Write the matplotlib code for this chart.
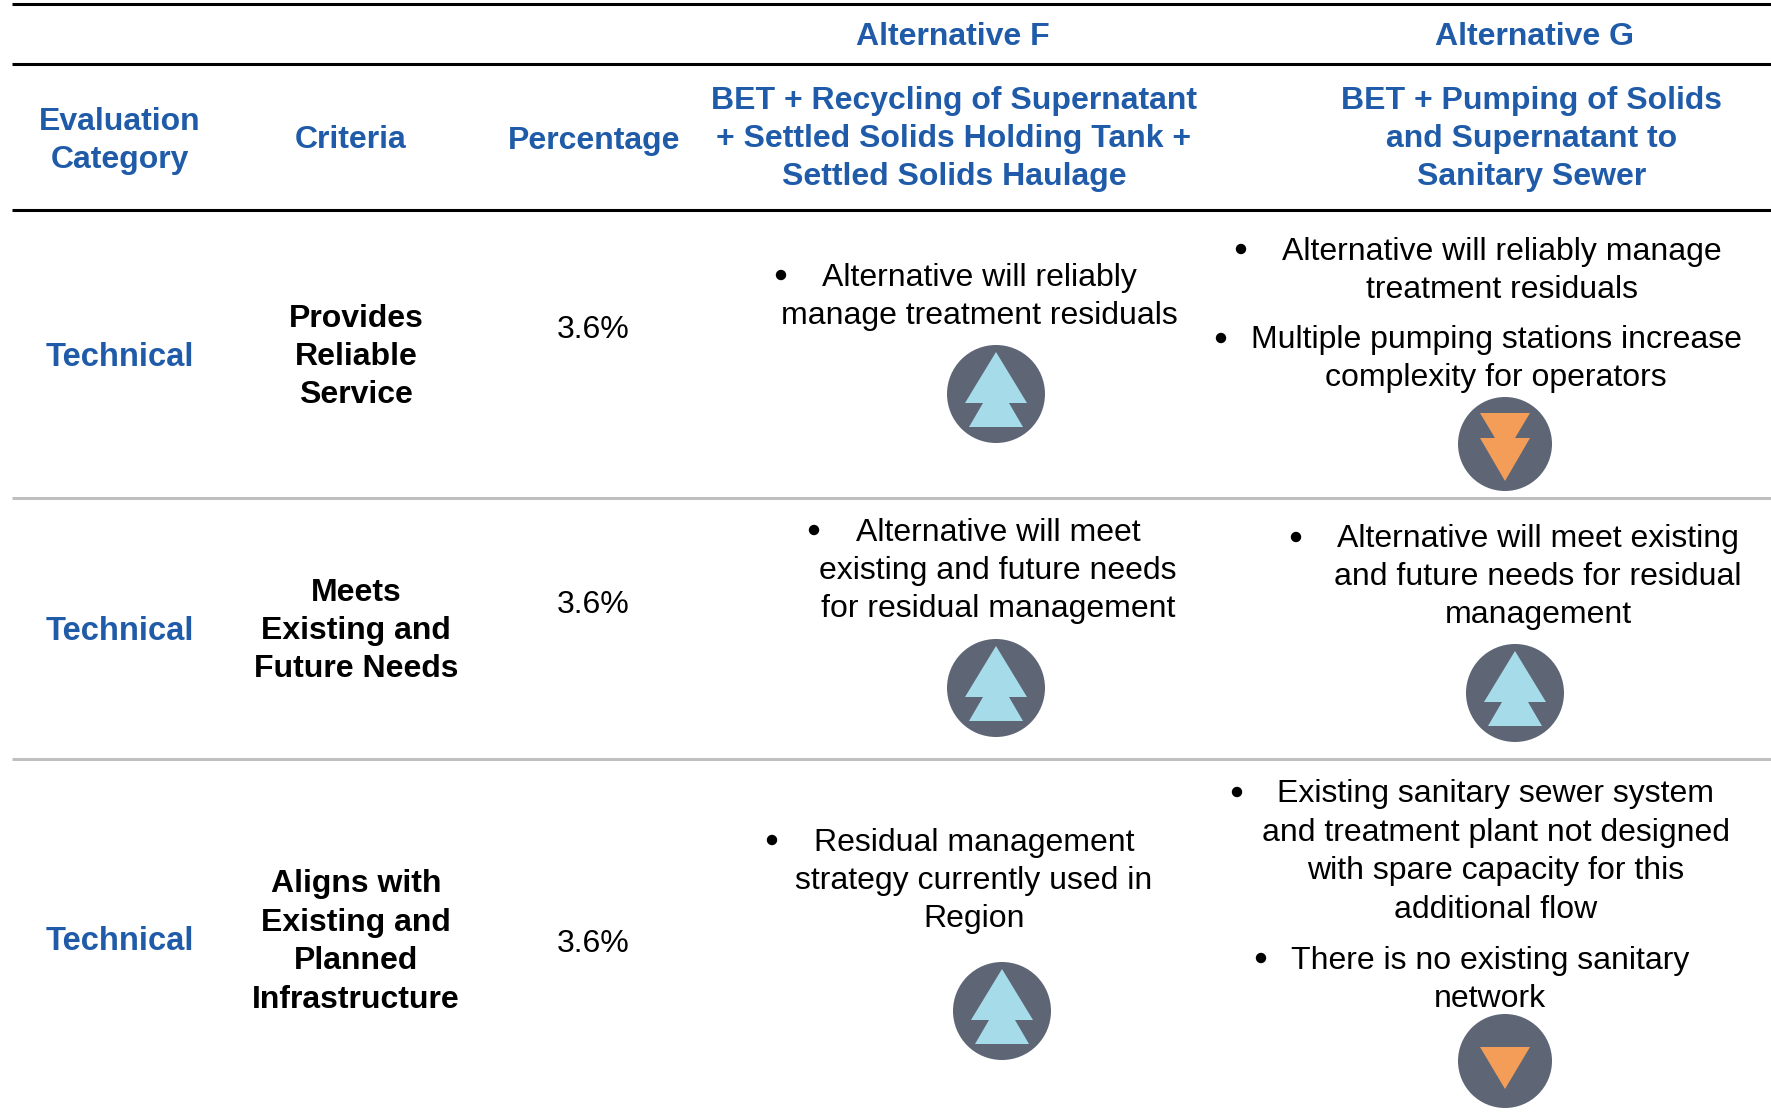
import matplotlib
matplotlib.use("Agg")
import matplotlib.pyplot as plt
from matplotlib.patches import Circle, Polygon

# DATA
alternatives = ["Alternative F", "Alternative G"]
headers = ["Evaluation\nCategory", "Criteria", "Percentage"]
alt_headers = [
    "BET + Recycling of Supernatant\n+ Settled Solids Holding Tank +\nSettled Solids Haulage",
    "BET + Pumping of Solids\nand Supernatant to\nSanitary Sewer",
]
categories = ["Technical", "Technical", "Technical"]
criteria = [
    "Provides\nReliable\nService",
    "Meets\nExisting and\nFuture Needs",
    "Aligns with\nExisting and\nPlanned\nInfrastructure",
]
percentages = ["3.6%", "3.6%", "3.6%"]

# text, centre x, centre y, bullet x, bullet y
f_notes = [
    ("Alternative will reliably\nmanage treatment residuals", 979, 294, 781, 275),
    ("Alternative will meet\nexisting and future needs\nfor residual management", 998, 568, 814, 530),
    ("Residual management\nstrategy currently used in\nRegion", 974, 878, 772, 840),
]
g_notes = [
    ("Alternative will reliably manage\ntreatment residuals", 1502, 268, 1241, 249),
    ("Multiple pumping stations increase\ncomplexity for operators", 1496, 356, 1221, 338),
    ("Alternative will meet existing\nand future needs for residual\nmanagement", 1538, 574, 1296, 537),
    ("Existing sanitary sewer system\nand treatment plant not designed\nwith spare capacity for this\nadditional flow", 1496, 849, 1237, 792),
    ("There is no existing sanitary\nnetwork", 1490, 977, 1261, 958),
]
# x, y, radius, kind
icons = [
    (996, 394, 49, "up2"),
    (1505, 444, 47, "down2"),
    (996, 688, 49, "up2"),
    (1515, 693, 49, "up2"),
    (1002, 1011, 49, "up2"),
    (1505, 1061, 47, "down1"),
]
shapes = {
    "up2": [(0, -42), (31, 9), (13, 9), (27, 33), (-27, 33), (-13, 9), (-31, 9)],
    "down2": [(-25, -31), (25, -31), (10, -6), (25, -6), (0, 37), (-25, -6), (-10, -6)],
    "down1": [(-25, -14), (25, -14), (0, 28)],
}

BLUE = "#1f5ba8"
DARK = "#5e6575"
LIGHT_BLUE = "#a6dbe9"
ORANGE = "#f49d58"

plt.rcParams["font.family"] = ["Liberation Sans", "DejaVu Sans"]

W, H = 1771, 1115
fig = plt.figure(figsize=(W / 100, H / 100), dpi=100)
ax = fig.add_axes([0, 0, 1, 1])
ax.set_xlim(0, W)
ax.set_ylim(H, 0)
ax.axis("off")

# RULES
for y, col, lw in [(4, "black", 2.2), (64, "black", 2.2), (210, "black", 2.2),
                   (498, "#bfbfbf", 2.2), (759, "#bfbfbf", 2.2)]:
    ax.plot([12, W], [y, y], color=col, lw=lw, solid_capstyle="butt")


def put(x, y, s, color="black", bold=False, size=23):
    ax.text(x, y + 3, s, ha="center", va="center", ma="center", fontsize=size,
            color=color, fontweight="bold" if bold else "normal", linespacing=1.365)


# HEADER
put(953, 34, alternatives[0], BLUE, True)
put(1535, 34, alternatives[1], BLUE, True)
for x, y, s in zip([120, 351, 594], [138, 137, 138], headers):
    put(x, y, s, BLUE, True)
put(954, 136, alt_headers[0], BLUE, True)
put(1532, 136, alt_headers[1], BLUE, True)

# ROWS
for y, s in zip([354, 628, 939], categories):
    put(120, y, s, BLUE, True, 23.6)
for y, s in zip([354, 628, 939], criteria):
    put(356, y, s, "black", True)
for y, s in zip([327, 602, 941], percentages):
    put(593, y, s)

for s, x, y, bx, by in f_notes + g_notes:
    put(x, y, s)
    ax.add_patch(Circle((bx, by), 5.2, color="black", lw=0))

# ICONS
for x, y, r, kind in icons:
    ax.add_patch(Circle((x, y), r, color=DARK, lw=0))
    col = LIGHT_BLUE if kind == "up2" else ORANGE
    ax.add_patch(Polygon([(x + dx, y + dy) for dx, dy in shapes[kind]], closed=True, color=col, lw=0))

fig.savefig("out.png", dpi=100)
